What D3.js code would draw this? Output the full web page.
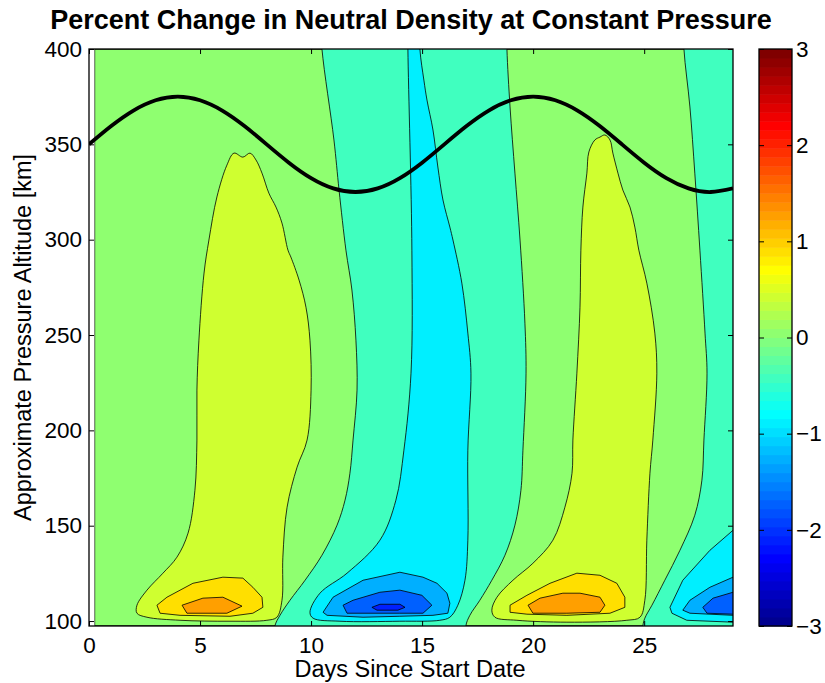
<!DOCTYPE html>
<html>
<head>
<meta charset="utf-8">
<script src="https://cdn.jsdelivr.net/npm/d3@7"></script>
<style>
    body { margin: 0; background: #fff; }
    svg { font-family: 'Liberation Sans', Arial, Helvetica, sans-serif; }
</style>
</head>
<body>
<div id="chart"></div>
<script>
// ---- data ----
const dayTicks = [0, 5, 10, 15, 20, 25]
const altitudeTicks = [100, 150, 200, 250, 300, 350, 400]
const colorbarTicks = [-3, -2, -1, 0, 1, 2, 3]
const dayRange = [0, 29]
const altitudeRange = [97.4, 400]
const dataStartDay = 0.25

// contour levels (percent change) used by the filled regions
const contourLevels = [-2.15, -1.72, -1.29, -0.86, -0.43, 0, 0.43, 0.86, 1.29]

// black line: approx. altitude of the satellite vs day
const orbitDays = [0, 1, 2, 3, 4, 5, 6, 7, 8, 9, 10, 11, 12, 13, 14, 15, 16, 17, 18, 19, 20, 21, 22, 23, 24, 25, 26, 27, 28, 29]
const orbitAltitude = [350, 359.6, 367.7, 373.1, 375, 373.1, 367.7, 359.6, 350, 340.4, 332.3, 326.9, 325, 326.9, 332.3,
    340.4, 350, 359.6, 367.7, 373.1, 375, 373.1, 367.7, 359.6, 350, 340.4, 332.3, 326.9, 325, 326.9]

// contour regions, [day, km]
const bulge1Outer = [[6.53, 345.4], [6.93, 343.3], [7.25, 345.4], [7.52, 341.8], [7.79, 334.9], [8.10, 324.4], [8.42, 317.1],
    [8.69, 308.7], [8.96, 294.5], [9.09, 290.9], [9.46, 278.8], [9.77, 264.6], [9.95, 247.3], [10.0, 221.1], [9.82, 194.9],
    [9.37, 180.7], [8.92, 159.7], [8.73, 133.5], [8.69, 110.9], [8.46, 102.0], [8.01, 100.4], [6.35, 99.9], [4.10, 100.4],
    [2.61, 102.0], [2.16, 104.1], [2.16, 108.3], [2.61, 116.2], [3.33, 125.1], [3.96, 133.5], [4.46, 146.1], [4.77, 168.6],
    [4.86, 194.9], [4.86, 221.1], [4.95, 247.3], [5.18, 282.5], [5.40, 299.8], [5.76, 322.4], [6.21, 339.1]]
const bulge1Mid = [[3.06, 108.3], [3.51, 112.5], [4.68, 119.8], [6.03, 123.0], [6.93, 122.5], [7.38, 117.7], [7.79, 112.5],
    [7.83, 107.2], [7.38, 104.1], [6.35, 102.5], [4.10, 103.0], [3.20, 104.1]]
const bulge1Core = [[4.19, 108.3], [5.13, 112.0], [6.03, 112.5], [6.89, 107.8], [6.21, 104.1], [4.41, 104.1]]

const dipBand1 = [[10.4, 420], [10.49, 400], [11.03, 352.3], [11.26, 326.0], [11.57, 294.5], [11.84, 273.6], [12.02, 247.3],
    [12.07, 221.1], [11.89, 194.9], [11.75, 177.5], [11.53, 163.4], [11.17, 150.3], [10.49, 134.5], [9.73, 121.4],
    [9.05, 110.9], [8.60, 103.0], [8.37, 97.4], [8.3, 85],
    [17.0, 85], [16.97, 97.4], [17.15, 103.0], [17.60, 110.9], [18.14, 121.4], [18.73, 134.5], [19.18, 150.3],
    [19.45, 168.6], [19.54, 189.6], [19.68, 230.0], [19.63, 256.2], [19.41, 299.8], [19.18, 334.9], [18.96, 369.6],
    [18.82, 400], [18.8, 420]]
const dip1Outer = [[14.35, 420], [14.36, 400], [14.54, 294.5], [14.50, 230.0], [14.18, 189.6], [13.82, 163.4],
    [13.10, 142.4], [11.62, 125.1], [10.40, 114.6], [9.95, 104.6], [10.09, 101.5], [11.30, 99.9], [14.0, 99.9],
    [15.80, 100.4], [16.25, 102.0], [16.61, 108.3], [16.93, 121.4], [17.06, 142.4], [17.06, 189.6], [17.20, 230.0],
    [17.06, 251.0], [16.79, 277.2], [16.39, 299.8], [16.25, 306.6], [15.94, 320.8], [15.71, 338.1], [15.49, 357.5],
    [15.22, 373.2], [15.08, 383.7], [14.90, 400], [14.88, 420]]
const dip1Mid = [[10.54, 104.6], [10.99, 112.5], [12.34, 121.4], [14.0, 125.6], [15.04, 123.0], [15.67, 119.8],
    [16.12, 114.6], [16.25, 109.3], [16.16, 104.1], [15.49, 103.0], [14.0, 102.5], [12.34, 102.0], [10.72, 103.0]]
const dip1Inner = [[11.44, 108.3], [11.89, 110.9], [13.10, 115.1], [14.0, 116.2], [14.99, 113.5], [15.44, 108.3],
    [15.04, 104.1], [14.0, 104.1], [11.62, 104.1]]
const dip1Core = [[12.74, 107.2], [13.10, 108.8], [14.0, 108.8], [14.23, 107.2], [13.91, 105.7], [12.97, 105.7]]

const bulge2Outer = [[22.78, 352.3], [23.01, 353.8], [23.23, 354.9], [23.46, 352.3], [23.59, 345.4], [23.82, 334.9],
    [24.04, 326.0], [24.36, 317.1], [24.58, 306.6], [24.76, 294.5], [25.12, 277.2], [25.48, 251.0], [25.57, 230.0],
    [25.39, 194.9], [25.26, 177.5], [25.12, 142.4], [25.03, 110.9], [24.81, 102.0], [24.22, 100.4], [21.52, 99.4],
    [19.27, 100.4], [18.28, 102.0], [18.14, 105.7], [18.37, 112.5], [19.09, 121.4], [19.99, 130.3], [20.89, 142.4],
    [21.43, 159.7], [21.75, 177.5], [21.79, 194.9], [21.97, 230.0], [22.11, 264.6], [22.15, 294.5], [22.24, 317.1],
    [22.42, 334.9], [22.51, 346.0]]
const bulge2Mid = [[18.96, 108.3], [19.72, 113.5], [20.76, 119.8], [21.97, 125.1], [23.01, 124.0], [23.77, 119.8],
    [24.13, 112.5], [24.13, 107.2], [23.46, 104.1], [21.52, 103.0], [19.72, 103.6], [18.96, 104.6]]
const bulge2Core = [[19.77, 108.3], [20.31, 112.0], [21.34, 114.6], [22.11, 114.6], [23.01, 112.5], [23.23, 108.3],
    [23.01, 104.6], [21.52, 104.1], [19.99, 104.1]]

const dipBand2 = [[26.75, 420], [26.79, 400], [27.06, 369.6], [27.28, 334.9], [27.51, 294.5], [27.74, 251.0],
    [27.83, 230.0], [27.69, 194.9], [27.60, 173.9], [27.28, 155.5], [26.61, 137.1], [25.93, 121.4], [25.35, 108.3],
    [25.03, 101.5], [24.94, 97.4], [24.9, 85], [30, 85], [30, 420]]
const dip2Outer = [[30, 147.6], [29, 147.6], [27.96, 137.1], [26.74, 121.4], [26.16, 107.2], [26.25, 104.1],
    [26.92, 100.4], [29, 99.4], [30, 99.4]]
const dip2Mid = [[30, 123.0], [29, 123.0], [27.96, 117.7], [27.06, 110.9], [26.74, 105.7], [27.06, 104.1], [29, 103.0], [30, 103.0]]
const dip2Inner = [[30, 115.1], [29, 115.1], [28.10, 112.0], [27.64, 107.2], [27.83, 104.1], [29, 103.6], [30, 103.6]]

// paint order: outer to inner
const regions = [
    { level: contourLevels[6], points: bulge1Outer, smooth: true },
    { level: contourLevels[7], points: bulge1Mid, smooth: false },
    { level: contourLevels[8], points: bulge1Core, smooth: false },
    { level: contourLevels[4], points: dipBand1, smooth: true },
    { level: contourLevels[3], points: dip1Outer, smooth: true },
    { level: contourLevels[2], points: dip1Mid, smooth: false },
    { level: contourLevels[1], points: dip1Inner, smooth: false },
    { level: contourLevels[0], points: dip1Core, smooth: false },
    { level: contourLevels[6], points: bulge2Outer, smooth: true },
    { level: contourLevels[7], points: bulge2Mid, smooth: false },
    { level: contourLevels[8], points: bulge2Core, smooth: false },
    { level: contourLevels[4], points: dipBand2, smooth: true },
    { level: contourLevels[3], points: dip2Outer, smooth: false },
    { level: contourLevels[2], points: dip2Mid, smooth: false },
    { level: contourLevels[1], points: dip2Inner, smooth: false },
]

// MATLAB style jet(64)
function jetRow(i) {
    let r, g, b
    if (i <= 8) { r = 0; g = 0; b = (i + 8) / 16 }
    else if (i <= 24) { r = 0; g = (i - 8) / 16; b = 1 }
    else if (i <= 40) { r = (i - 24) / 16; g = 1; b = 1 - (i - 24) / 16 }
    else if (i <= 56) { r = 1; g = 1 - (i - 40) / 16; b = 0 }
    else { r = 1 - (i - 56) / 16; g = 0; b = 0 }
    return d3.rgb(r * 255, g * 255, b * 255).formatHex()
}
const colorDomain = [-3, 3]
function jet(v) {
    const i = Math.floor((v - colorDomain[0]) / (colorDomain[1] - colorDomain[0]) * 64) + 1
    return jetRow(Math.max(1, Math.min(64, i)))
}

// ---- layout ----
const W = 825, H = 683
const plot = { left: 89, right: 733, top: 49, bottom: 626 }
const bar = { left: 759, right: 792 }
const tickFont = 22.5
const labelFont = 23.5
const titleFont = 27

const svg = d3.select('#chart').append('svg')
    .attr('width', W).attr('height', H)
    .attr('viewBox', [0, 0, W, H])

const x = d3.scaleLinear().domain(dayRange).range([plot.left, plot.right])
const y = d3.scaleLinear().domain(altitudeRange).range([plot.bottom, plot.top])

const defs = svg.append('defs')
defs.append('clipPath').attr('id', 'dataClip')
    .append('rect')
    .attr('x', x(dataStartDay)).attr('y', y(altitudeRange[1]))
    .attr('width', x(dayRange[1]) - x(dataStartDay))
    .attr('height', y(altitudeRange[0]) - y(altitudeRange[1]))
defs.append('clipPath').attr('id', 'axesClip')
    .append('rect')
    .attr('x', plot.left).attr('y', plot.top)
    .attr('width', plot.right - plot.left).attr('height', plot.bottom - plot.top)

// filled contours
const field = svg.append('g').attr('clip-path', 'url(#dataClip)')
field.append('rect')
    .attr('x', x(dataStartDay)).attr('y', y(altitudeRange[1]))
    .attr('width', x(dayRange[1]) - x(dataStartDay))
    .attr('height', y(altitudeRange[0]) - y(altitudeRange[1]))
    .attr('fill', jet(contourLevels[5]))
    .attr('stroke', '#000').attr('stroke-width', 1.2)

const smoothLine = d3.line().x(d => x(d[0])).y(d => y(d[1])).curve(d3.curveCatmullRomClosed.alpha(0.5))
const sharpLine = d3.line().x(d => x(d[0])).y(d => y(d[1])).curve(d3.curveLinearClosed)

field.selectAll('path.region')
    .data(regions)
    .enter()
    .append('path')
    .attr('class', 'region')
    .attr('d', d => (d.smooth ? smoothLine : sharpLine)(d.points))
    .attr('fill', d => jet(d.level))
    .attr('stroke', '#000')
    .attr('stroke-width', 0.8)
    .attr('stroke-linejoin', 'round')

// orbit altitude line
svg.append('g').attr('clip-path', 'url(#axesClip)')
    .append('path')
    .datum(d3.zip(orbitDays, orbitAltitude))
    .attr('d', d3.line().x(d => x(d[0])).y(d => y(d[1])).curve(d3.curveNatural))
    .attr('fill', 'none')
    .attr('stroke', '#000')
    .attr('stroke-width', 3.8)

// axes
const tickLen = 5
function styleAxis(g) {
    g.select('.domain').remove()
    g.selectAll('line').attr('stroke', '#000')
    g.selectAll('text').attr('font-size', tickFont).attr('fill', '#000')
        .attr('font-family', "'Liberation Sans', Arial, sans-serif")
}
svg.append('g').attr('transform', `translate(0, ${plot.bottom})`)
    .call(d3.axisBottom(x).tickValues(dayTicks).tickSizeInner(-tickLen).tickSizeOuter(0).tickPadding(11))
    .call(styleAxis)
svg.append('g').attr('transform', `translate(0, ${plot.top})`)
    .call(d3.axisTop(x).tickValues(dayTicks).tickSizeInner(-tickLen).tickSizeOuter(0).tickFormat(''))
    .call(styleAxis)
svg.append('g').attr('transform', `translate(${plot.left}, 0)`)
    .call(d3.axisLeft(y).tickValues(altitudeTicks).tickSizeInner(-tickLen).tickSizeOuter(0).tickPadding(7))
    .call(styleAxis)
svg.append('g').attr('transform', `translate(${plot.right}, 0)`)
    .call(d3.axisRight(y).tickValues(altitudeTicks).tickSizeInner(-tickLen).tickSizeOuter(0).tickFormat(''))
    .call(styleAxis)
svg.append('rect')
    .attr('x', plot.left).attr('y', plot.top)
    .attr('width', plot.right - plot.left).attr('height', plot.bottom - plot.top)
    .attr('fill', 'none').attr('stroke', '#000').attr('stroke-width', 1.3)

// colorbar
const cy = d3.scaleLinear().domain(colorDomain).range([plot.bottom, plot.top])
const step = (colorDomain[1] - colorDomain[0]) / 64
svg.append('g').selectAll('rect')
    .data(d3.range(64))
    .enter()
    .append('rect')
    .attr('x', bar.left)
    .attr('width', bar.right - bar.left)
    .attr('y', i => cy(colorDomain[0] + (i + 1) * step))
    .attr('height', i => cy(colorDomain[0] + i * step) - cy(colorDomain[0] + (i + 1) * step) + 0.5)
    .attr('fill', i => jetRow(i + 1))
svg.append('g').attr('transform', `translate(${bar.right}, 0)`)
    .call(d3.axisRight(cy).tickValues(colorbarTicks).tickSizeInner(-tickLen).tickSizeOuter(0).tickPadding(4).tickFormat(d3.format('d')))
    .call(styleAxis)
svg.append('g').attr('transform', `translate(${bar.left}, 0)`)
    .call(d3.axisLeft(cy).tickValues(colorbarTicks).tickSizeInner(-tickLen).tickSizeOuter(0).tickFormat(''))
    .call(styleAxis)
svg.append('rect')
    .attr('x', bar.left).attr('y', plot.top)
    .attr('width', bar.right - bar.left).attr('height', plot.bottom - plot.top)
    .attr('fill', 'none').attr('stroke', '#000').attr('stroke-width', 1.3)

// titles
svg.append('text')
    .attr('x', 411).attr('y', 29)
    .attr('text-anchor', 'middle')
    .attr('font-size', titleFont).attr('font-weight', 'bold')
    .text('Percent Change in Neutral Density at Constant Pressure')
svg.append('text')
    .attr('x', 410).attr('y', 677)
    .attr('text-anchor', 'middle')
    .attr('font-size', labelFont)
    .text('Days Since Start Date')
svg.append('text')
    .attr('transform', `translate(31, ${(plot.top + plot.bottom) / 2}) rotate(-90)`)
    .attr('text-anchor', 'middle')
    .attr('font-size', labelFont)
    .text('Approximate Pressure Altitude [km]')
</script>
</body>
</html>
